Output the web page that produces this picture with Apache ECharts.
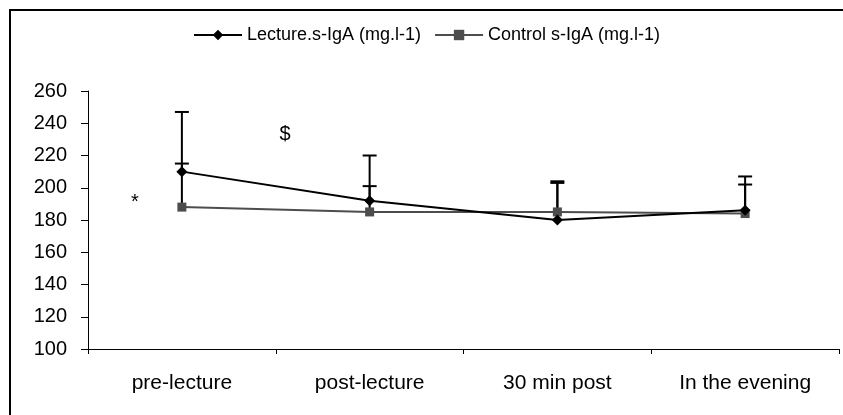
<!DOCTYPE html>
<html>
<head>
<meta charset="utf-8">
<script src="https://cdn.jsdelivr.net/npm/echarts@6/dist/echarts.min.js"></script>
<style>
  html, body { margin: 0; padding: 0; background: #fff; }
  #chart { width: 843px; height: 415px; }
</style>
</head>
<body>
<div id="chart"></div>
<script>
const categories = ['pre-lecture', 'post-lecture', '30 min post', 'In the evening']
const lectureValues = [210, 192, 180, 186]
const lectureUpper = [247, 220, 204, 207]
const controlValues = [188, 185, 185, 184]
const controlUpper = [215, 201, 203, 202]
// significance marks: [category position, value, text]
const notes = [[-0.25, 191, '*'], [0.55, 233, '$']]

const font = 'Liberation Sans, Arial, sans-serif'
const chart = echarts.init(document.getElementById('chart'))

const errorBar = (values, upper) => ({
  type: 'custom',
  silent: true,
  z: 1,
  data: values.map((v, i) => [i, v, upper[i]]),
  renderItem: (params, api) => {
    const lo = api.coord([api.value(0), api.value(1)])
    const hi = api.coord([api.value(0), api.value(2)])
    const style = { stroke: '#000', lineWidth: 2 }
    return {
      type: 'group',
      children: [
        { type: 'line', shape: { x1: lo[0], y1: lo[1], x2: hi[0], y2: hi[1] }, style },
        { type: 'line', shape: { x1: hi[0] - 7, y1: hi[1], x2: hi[0] + 7, y2: hi[1] }, style }
      ]
    }
  }
})

chart.setOption({
  animation: false,
  backgroundColor: '#fff',
  graphic: [{
    type: 'rect',
    shape: { x: 10, y: 10, width: 850, height: 420 },
    style: { fill: null, stroke: '#000', lineWidth: 2 },
    silent: true
  }],
  legend: {
    top: 21,
    left: 188,
    itemWidth: 48,
    itemHeight: 13,
    itemGap: 13,
    textStyle: { fontFamily: font, fontSize: 18, color: '#000' },
    data: ['Lecture.s-IgA (mg.l-1)', 'Control s-IgA (mg.l-1)']
  },
  grid: { left: 88, right: 4, top: 91, bottom: 66, containLabel: false },
  xAxis: {
    type: 'category',
    data: categories,
    boundaryGap: true,
    axisLine: { lineStyle: { color: '#000', width: 1 } },
    axisTick: { show: true, length: 5, inside: false, lineStyle: { color: '#000' } },
    axisLabel: { color: '#000', fontFamily: font, fontSize: 21, margin: 24 }
  },
  yAxis: {
    type: 'value',
    min: 100,
    max: 260,
    interval: 20,
    axisLine: { show: true, lineStyle: { color: '#000', width: 1 } },
    axisTick: { show: true, length: 7, lineStyle: { color: '#000' } },
    axisLabel: { color: '#000', fontFamily: font, fontSize: 20, margin: 21 },
    splitLine: { show: false }
  },
  series: [
    errorBar(lectureValues, lectureUpper),
    errorBar(controlValues, controlUpper),
    {
      name: 'Lecture.s-IgA (mg.l-1)',
      type: 'line',
      z: 3,
      data: lectureValues,
      symbol: 'diamond',
      symbolSize: 11,
      itemStyle: { color: '#000' },
      lineStyle: { color: '#000', width: 2 }
    },
    {
      name: 'Control s-IgA (mg.l-1)',
      type: 'line',
      z: 2,
      data: controlValues,
      symbol: 'rect',
      symbolSize: 9,
      itemStyle: { color: '#4d4d4d' },
      lineStyle: { color: '#4d4d4d', width: 2 }
    },
    {
      type: 'custom',
      silent: true,
      data: notes,
      renderItem: (params, api) => {
        const p = api.coord([0, api.value(1)])
        const band = api.size([1, 0])[0]
        return {
          type: 'text',
          x: p[0] + api.value(0) * band,
          y: p[1],
          style: {
            text: notes[params.dataIndex][2],
            fontFamily: font,
            fontSize: 20,
            fill: '#000',
            align: 'center',
            verticalAlign: 'middle'
          }
        }
      }
    }
  ]
})
</script>
</body>
</html>
